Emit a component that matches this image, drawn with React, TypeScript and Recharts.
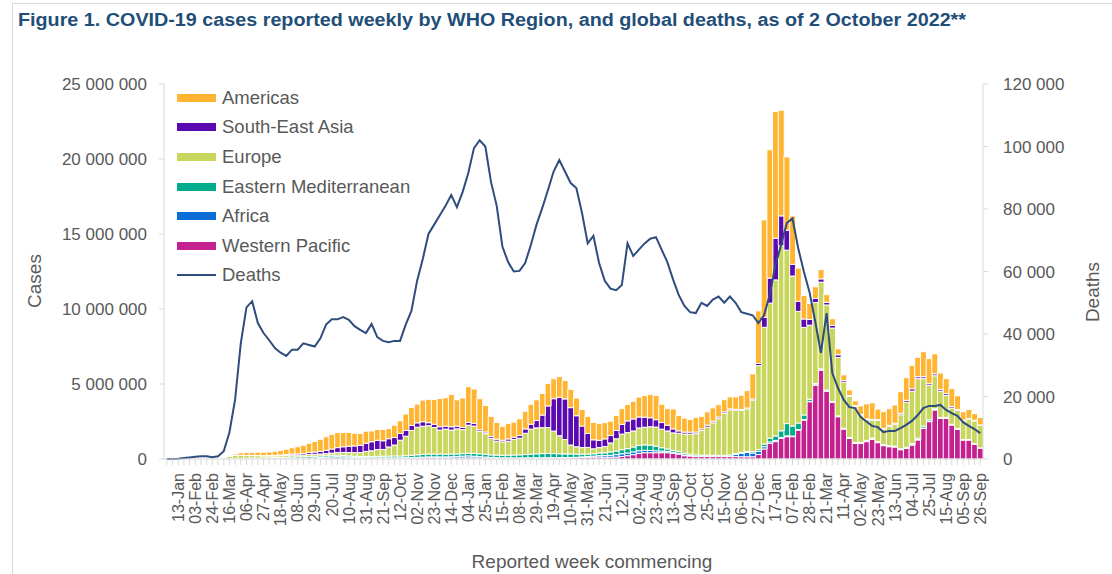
import React from "react";
import { Bar, ComposedChart, Legend, Line, XAxis, YAxis } from "recharts";

const WIDTH = 1112;
const HEIGHT = 574;
const FONT = '"Liberation Sans", Arial, sans-serif';
const TEXT = "#595959";
const AXIS = "#d9d9d9";

// week commencing, 30-Dec-2019 .. 26-Sep-2022
const weeks = [
  "30-Dec", "06-Jan", "13-Jan", "20-Jan", "27-Jan", "03-Feb", "10-Feb", "17-Feb", "24-Feb", "02-Mar", "09-Mar", "16-Mar",
  "23-Mar", "30-Mar", "06-Apr", "13-Apr", "20-Apr", "27-Apr", "04-May", "11-May", "18-May", "25-May", "01-Jun", "08-Jun",
  "15-Jun", "22-Jun", "29-Jun", "06-Jul", "13-Jul", "20-Jul", "27-Jul", "03-Aug", "10-Aug", "17-Aug", "24-Aug", "31-Aug",
  "07-Sep", "14-Sep", "21-Sep", "28-Sep", "05-Oct", "12-Oct", "19-Oct", "26-Oct", "02-Nov", "09-Nov", "16-Nov", "23-Nov",
  "30-Nov", "07-Dec", "14-Dec", "21-Dec", "28-Dec", "04-Jan", "11-Jan", "18-Jan", "25-Jan", "01-Feb", "08-Feb", "15-Feb",
  "22-Feb", "01-Mar", "08-Mar", "15-Mar", "22-Mar", "29-Mar", "05-Apr", "12-Apr", "19-Apr", "26-Apr", "03-May", "10-May",
  "17-May", "24-May", "31-May", "07-Jun", "14-Jun", "21-Jun", "28-Jun", "05-Jul", "12-Jul", "19-Jul", "26-Jul", "02-Aug",
  "09-Aug", "16-Aug", "23-Aug", "30-Aug", "06-Sep", "13-Sep", "20-Sep", "27-Sep", "04-Oct", "11-Oct", "18-Oct", "25-Oct",
  "01-Nov", "08-Nov", "15-Nov", "22-Nov", "29-Nov", "06-Dec", "13-Dec", "20-Dec", "27-Dec", "03-Jan", "10-Jan", "17-Jan",
  "24-Jan", "31-Jan", "07-Feb", "14-Feb", "21-Feb", "28-Feb", "07-Mar", "14-Mar", "21-Mar", "28-Mar", "04-Apr", "11-Apr",
  "18-Apr", "25-Apr", "02-May", "09-May", "16-May", "23-May", "30-May", "06-Jun", "13-Jun", "20-Jun", "27-Jun", "04-Jul",
  "11-Jul", "18-Jul", "25-Jul", "01-Aug", "08-Aug", "15-Aug", "22-Aug", "29-Aug", "05-Sep", "12-Sep", "19-Sep", "26-Sep",
];

// weekly cases, thousands
const americas = [
  0, 0, 0, 0, 0, 0, 0, 0, 0, 1, 5, 30,
  100, 170, 200, 210, 220, 230, 240, 270, 310, 360, 420, 480,
  550, 620, 700, 800, 900, 980, 1000, 950, 920, 850, 800, 800,
  720, 720, 750, 670, 820, 850, 1100, 1200, 1250, 1440, 1560, 1650,
  1890, 1890, 2160, 1760, 1960, 2380, 2290, 2070, 1760, 1330, 1110, 930,
  1040, 1000, 1110, 1180, 1330, 1380, 1440, 1490, 1330, 1380, 1220, 1220,
  1180, 1110, 1130, 1160, 1110, 1090, 950, 1000, 1050, 1100, 1180, 1330,
  1440, 1560, 1620, 1220, 1110, 1330, 1020, 930, 840, 960, 840, 890,
  890, 820, 820, 800, 820, 950, 1160, 1670, 3510, 6490, 8560, 8440,
  7040, 4890, 3220, 2220, 1560, 1070, 780, 620, 510, 440, 400, 380,
  380, 330, 560, 1000, 1110, 710, 1110, 1110, 1220, 1440, 1510, 1560,
  1290, 1670, 1670, 1330, 1110, 1000, 1200, 910, 560, 600, 440, 490,
];

const southEastAsia = [
  0, 0, 0, 0, 0, 0, 0, 0, 0, 0, 0, 0,
  2, 5, 8, 10, 13, 18, 25, 35, 45, 55, 70, 80,
  100, 130, 150, 180, 220, 270, 330, 380, 430, 450, 470, 550,
  600, 620, 580, 550, 500, 450, 380, 330, 290, 300, 200, 220,
  220, 200, 220, 180, 150, 180, 180, 110, 110, 120, 130, 110,
  150, 150, 180, 290, 330, 490, 840, 1440, 2160, 2560, 2710, 2490,
  2070, 1440, 930, 600, 490, 510, 500, 550, 650, 780, 800, 730,
  670, 600, 490, 440, 380, 270, 160, 130, 130, 110, 110, 130,
  110, 110, 110, 70, 60, 60, 60, 70, 150, 670, 1670, 2780,
  2000, 1330, 780, 670, 560, 380, 270, 220, 180, 180, 180, 110,
  60, 50, 50, 50, 50, 50, 50, 60, 70, 100, 130, 160,
  130, 130, 110, 130, 110, 130, 100, 60, 50, 40, 40, 40,
];

const europe = [
  0, 0, 0, 0, 0, 0, 0, 0, 3, 20, 60, 150,
  200, 200, 180, 170, 160, 140, 130, 120, 120, 120, 130, 120,
  120, 130, 130, 130, 140, 150, 170, 200, 220, 230, 260, 330,
  380, 450, 450, 610, 730, 1050, 1300, 1660, 1840, 1880, 1890, 1770,
  1600, 1670, 1600, 1670, 1600, 1870, 1820, 1490, 1380, 1110, 930, 890,
  930, 1040, 1110, 1420, 1670, 1730, 1730, 1730, 1500, 1200, 960, 600,
  490, 440, 440, 330, 360, 420, 600, 820, 1040, 1070, 1070, 1160,
  1180, 1220, 1270, 1240, 1200, 1160, 1200, 1290, 1330, 1420, 1640, 1870,
  2160, 2440, 2780, 3000, 2890, 2800, 2840, 3440, 5600, 7780, 9000, 10400,
  12330, 11560, 10000, 7440, 5840, 4930, 5400, 5780, 5670, 4890, 3890, 3070,
  2730, 2400, 1820, 1380, 1180, 1400, 1040, 1300, 1450, 2270, 3000, 3490,
  3960, 3160, 2300, 2200, 1750, 1450, 1080, 1220, 1240, 1360, 1510, 1490,
];

const easternMediterranean = [
  0, 0, 0, 0, 0, 0, 0, 0, 1, 8, 12, 15,
  20, 30, 35, 40, 45, 50, 60, 70, 80, 90, 100, 100,
  100, 110, 110, 110, 100, 100, 100, 90, 80, 80, 80, 90,
  90, 100, 110, 120, 130, 120, 130, 150, 170, 180, 190, 190,
  190, 180, 180, 170, 170, 180, 190, 190, 180, 170, 170, 170,
  180, 190, 200, 220, 240, 260, 270, 280, 270, 260, 240, 230,
  210, 180, 160, 160, 180, 180, 220, 240, 270, 290, 330, 360,
  360, 360, 310, 220, 160, 130, 130, 110, 90, 80, 70, 70,
  70, 70, 70, 70, 60, 60, 70, 90, 120, 180, 250, 300,
  440, 820, 670, 440, 310, 150, 80, 60, 50, 40, 40, 30,
  30, 30, 30, 30, 30, 30, 30, 30, 30, 30, 50, 80,
  100, 130, 100, 60, 50, 40, 30, 30, 20, 20, 20, 20,
];

const africa = [
  0, 0, 0, 0, 0, 0, 0, 0, 0, 1, 1, 2,
  2, 3, 4, 6, 8, 8, 10, 12, 15, 20, 25, 30,
  35, 45, 55, 65, 75, 85, 90, 80, 70, 60, 50, 45,
  40, 38, 36, 34, 33, 35, 38, 40, 45, 50, 55, 60,
  60, 65, 75, 100, 120, 130, 110, 90, 70, 55, 45, 40,
  38, 37, 36, 35, 35, 35, 33, 32, 30, 30, 32, 35,
  35, 40, 50, 60, 90, 110, 130, 160, 180, 180, 180, 170,
  160, 150, 130, 110, 90, 70, 55, 45, 40, 30, 25, 25,
  20, 20, 20, 40, 150, 230, 280, 250, 200, 150, 100, 80,
  60, 50, 40, 30, 25, 20, 20, 18, 18, 18, 18, 20,
  25, 30, 40, 55, 60, 50, 40, 35, 30, 28, 25, 25,
  25, 25, 22, 20, 18, 16, 15, 14, 13, 12, 12, 11,
];

const westernPacific = [
  0, 0, 0.1, 1, 10, 20, 25, 10, 5, 3, 3, 5,
  10, 10, 12, 12, 10, 8, 7, 6, 6, 6, 7, 10,
  12, 15, 20, 30, 45, 60, 70, 65, 55, 50, 45, 40,
  40, 40, 40, 40, 40, 45, 50, 55, 65, 75, 85, 80,
  80, 75, 75, 70, 70, 75, 75, 70, 60, 50, 45, 40,
  40, 40, 40, 40, 45, 50, 55, 55, 60, 60, 65, 70,
  80, 100, 120, 130, 130, 120, 120, 130, 170, 220, 290, 380,
  420, 420, 420, 420, 420, 380, 330, 220, 200, 160, 160, 160,
  160, 160, 160, 160, 160, 150, 150, 150, 300, 670, 1040, 1160,
  1380, 1490, 1490, 1930, 2600, 3820, 4930, 5930, 4530, 3780, 2820, 2000,
  1380, 1040, 1040, 1160, 1310, 1090, 890, 820, 800, 620, 710, 930,
  1270, 2040, 2490, 3270, 2700, 2720, 2270, 1980, 1270, 1270, 1000, 710,
];

// weekly global deaths, thousands
const deaths = [
  0, 0, 0.1, 0.3, 0.5, 0.7, 0.9, 0.9, 0.6, 0.9, 2.5, 8.5,
  19, 37, 48.5, 50.5, 43.5, 40.3, 38, 35.5, 34, 33, 35, 35,
  37, 36.5, 36, 38.6, 43, 44.7, 44.7, 45.4, 44.5, 42.5, 41.3, 40.3,
  43.2, 39, 37.8, 37.4, 37.8, 37.8, 43, 47.4, 57, 64, 72, 75,
  78, 81, 84.5, 80.6, 85.4, 91.5, 99.5, 102, 100, 88.6, 81, 68,
  63, 60, 60.2, 62.7, 68.5, 75, 80.3, 86, 92, 95.7, 92, 88.3,
  86.7, 78.7, 69, 71.4, 62.7, 57, 54.5, 54, 55.7, 69, 65, 67,
  69, 70.5, 71, 67, 63, 57.5, 52.5, 49, 47, 46.7, 50, 49,
  51, 52, 50, 52, 50, 47, 46.5, 46, 43.5, 46, 52.5, 62,
  68.5, 75.5, 77, 67.5, 60, 53.4, 44, 34, 46.7, 27.5, 22.7, 19,
  16.6, 16.3, 13.4, 12, 10.6, 10.2, 8.6, 9, 9, 9.9, 10.9, 12.2,
  14, 16.3, 17, 17, 17.3, 15.7, 14.7, 13.8, 11.8, 10.6, 9.6, 8.3,
];

const caseTicks = [0, 5000000, 10000000, 15000000, 20000000, 25000000];
const deathTicks = [0, 20000, 40000, 60000, 80000, 100000, 120000];

// stacked bottom to top
const series = [
  { key: "wp", name: "Western Pacific", color: "#C4208F", values: westernPacific },
  { key: "africa", name: "Africa", color: "#0A6ED6", values: africa },
  { key: "emr", name: "Eastern Mediterranean", color: "#00AC8C", values: easternMediterranean },
  { key: "europe", name: "Europe", color: "#C8D65E", values: europe },
  { key: "sea", name: "South-East Asia", color: "#5A0AB0", values: southEastAsia },
  { key: "americas", name: "Americas", color: "#FFB531", values: americas },
];
const DEATH_COLOR = "#2F4C7E";

const data = weeks.map((week, i) => {
  const row: Record<string, number | string> = { idx: i, week, deaths: deaths[i] * 1000 };
  series.forEach((s) => {
    row[s.key] = s.values[i] * 1000;
  });
  return row;
});

function spaced(value: number): string {
  return String(Math.round(value)).replace(/\B(?=(\d{3})+(?!\d))/g, " ");
}

function WeekTick(props: any) {
  const { x, y, payload } = props;
  const i = Number(payload.value);
  if (i % 3 !== 2) return <g />;
  return (
    <text
      x={x}
      y={y}
      dy="0.36em"
      textAnchor="end"
      transform={`rotate(-90, ${x}, ${y})`}
      fill={TEXT}
      fontSize={16}
      fontFamily={FONT}
    >
      {weeks[i]}
    </text>
  );
}

function LegendBox() {
  const rows = [...series].reverse().map((s) => ({ name: s.name, color: s.color, line: false }));
  rows.push({ name: "Deaths", color: DEATH_COLOR, line: true });
  return (
    <div style={{ fontFamily: FONT, fontSize: 18.5, color: TEXT }}>
      {rows.map((r) => (
        <div key={r.name} style={{ display: "flex", alignItems: "center", height: 29.6, whiteSpace: "nowrap" }}>
          <span style={{ display: "inline-block", width: 39, height: r.line ? 2 : 8, background: r.color, marginRight: 6 }} />
          <span>{r.name}</span>
        </div>
      ))}
    </div>
  );
}

export default function App() {
  return (
    <div style={{ position: "absolute", left: 0, top: 0, width: WIDTH, height: HEIGHT, background: "#fff" }}>
      <ComposedChart
        width={WIDTH}
        height={HEIGHT}
        data={data}
        margin={{ top: 84, right: 0, bottom: 0, left: 0 }}
        barCategoryGap={0}
      >
        <XAxis
          dataKey="idx"
          type="category"
          height={115}
          interval={0}
          tick={<WeekTick />}
          tickSize={6}
          tickMargin={8}
          stroke={AXIS}
          tickLine={{ stroke: AXIS }}
          axisLine={{ stroke: AXIS }}
        />
        <YAxis
          yAxisId="cases"
          orientation="left"
          width={164}
          domain={[0, 25000000]}
          ticks={caseTicks}
          tickFormatter={spaced}
          tickSize={5}
          tickMargin={12}
          axisLine={{ stroke: AXIS }}
          tickLine={{ stroke: AXIS }}
          tick={{ fill: TEXT, fontSize: 17, fontFamily: FONT }}
        />
        <YAxis
          yAxisId="deaths"
          orientation="right"
          width={129}
          domain={[0, 120000]}
          ticks={deathTicks}
          tickFormatter={spaced}
          tickSize={5}
          tickMargin={15}
          axisLine={{ stroke: AXIS }}
          tickLine={{ stroke: AXIS }}
          tick={{ fill: TEXT, fontSize: 17, fontFamily: FONT, textAnchor: "start" }}
        />
        <Legend
          layout="vertical"
          align="center"
          verticalAlign="middle"
          content={<LegendBox />}
          wrapperStyle={{ left: 177, top: 83, width: 270, height: 210 }}
        />
        {series.map((s) => (
          <Bar
            key={s.key}
            yAxisId="cases"
            dataKey={s.key}
            name={s.name}
            stackId="cases"
            fill={s.color}
            stroke="#ffffff"
            strokeWidth={1}
            isAnimationActive={false}
          />
        ))}
        <Line
          yAxisId="deaths"
          dataKey="deaths"
          name="Deaths"
          type="linear"
          stroke={DEATH_COLOR}
          strokeWidth={2}
          dot={false}
          isAnimationActive={false}
        />
      </ComposedChart>
      <svg
        width={WIDTH}
        height={HEIGHT}
        style={{ position: "absolute", left: 0, top: 0, pointerEvents: "none" }}
      >
        <line x1={12.5} y1={3} x2={12.5} y2={HEIGHT} stroke="#d9d9d9" />
        <line x1={12} y1={3.5} x2={WIDTH} y2={3.5} stroke="#d9d9d9" />
        <text
          x={18}
          y={26}
          fontFamily={FONT}
          fontWeight="bold"
          fontSize={18}
          fill="#1F4E79"
          textLength={948}
          lengthAdjust="spacingAndGlyphs"
        >
          Figure 1. COVID-19 cases reported weekly by WHO Region, and global deaths, as of 2 October 2022**
        </text>
        <text x={34} y={281} transform="rotate(-90, 34, 281)" textAnchor="middle" dy="0.35em" fontFamily={FONT} fontSize={19} fill={TEXT}>
          Cases
        </text>
        <text x={1092} y={292} transform="rotate(-90, 1092, 292)" textAnchor="middle" dy="0.35em" fontFamily={FONT} fontSize={19} fill={TEXT}>
          Deaths
        </text>
        <text x={592} y={568} textAnchor="middle" fontFamily={FONT} fontSize={19} fill={TEXT}>
          Reported week commencing
        </text>
      </svg>
    </div>
  );
}
